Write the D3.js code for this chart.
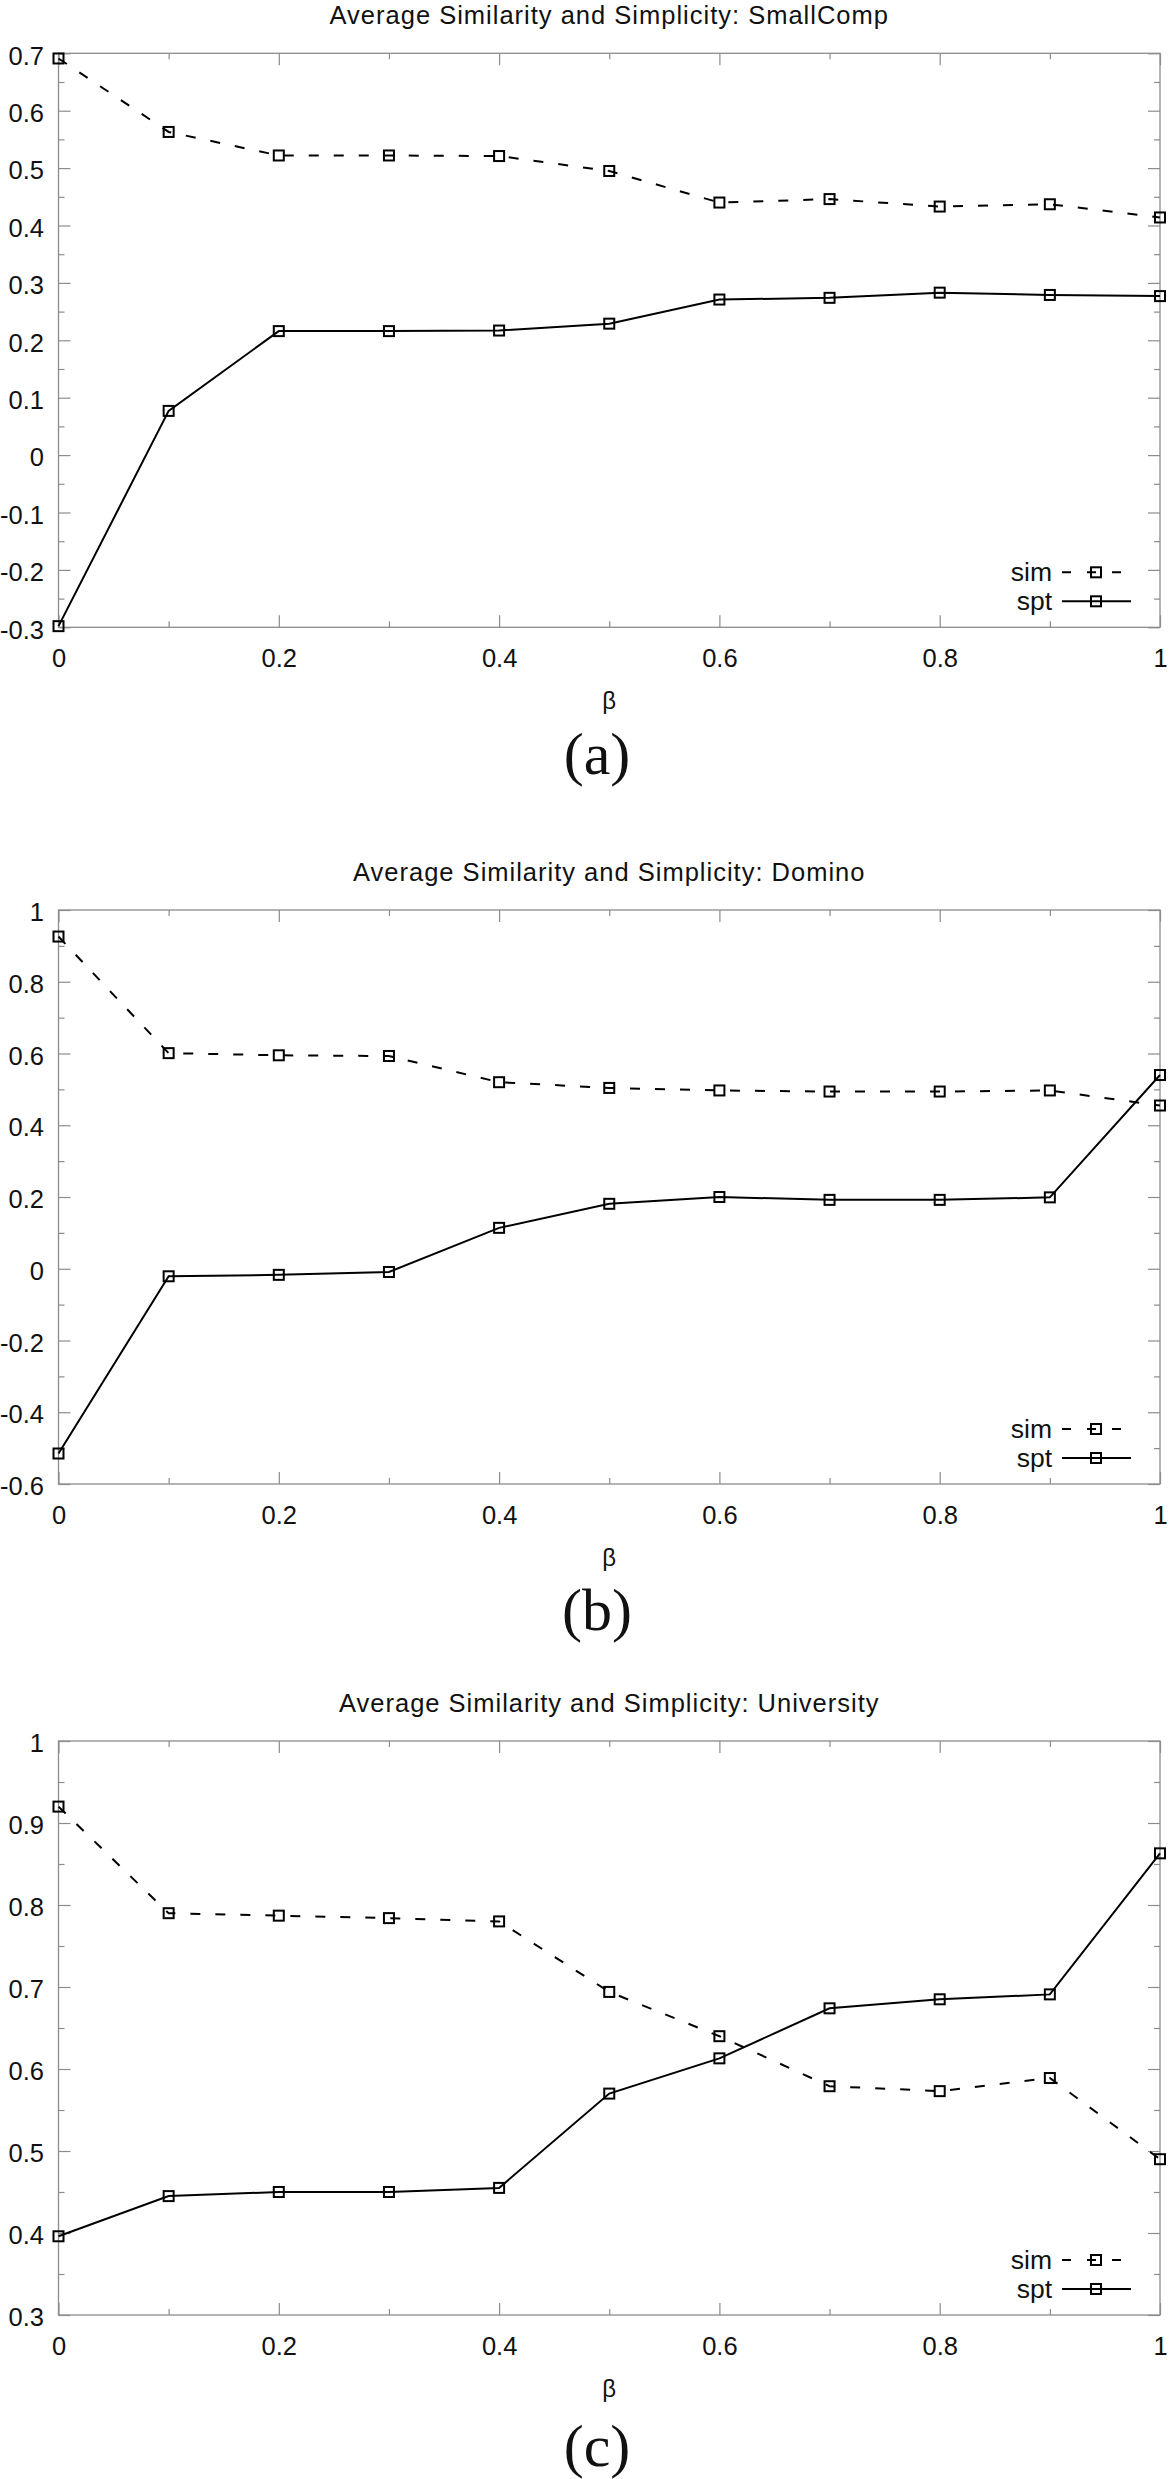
<!DOCTYPE html>
<html>
<head>
<meta charset="utf-8">
<script src="https://cdn.jsdelivr.net/npm/d3@7"></script>
<style>
  html, body { margin: 0; padding: 0; background: #fff; }
  svg { display: block; }
</style>
</head>
<body>
<svg id="chart" width="1170" height="2479"></svg>
<script>
// ---------------- data ----------------
const beta = [0, 0.1, 0.2, 0.3, 0.4, 0.5, 0.6, 0.7, 0.8, 0.9, 1.0];
const xMajorTicks = [0, 0.2, 0.4, 0.6, 0.8, 1];
const xMinorTicks = [0.1, 0.3, 0.5, 0.7, 0.9];
const seriesNames = ["sim", "spt"];
const panelTitles = [
  "Average Similarity and Simplicity: SmallComp",
  "Average Similarity and Simplicity: Domino",
  "Average Similarity and Simplicity: University"
];
const panelTags = ["(a)", "(b)", "(c)"];
const xAxisLabel = "β";

const simSmallComp = [0.691, 0.563, 0.522, 0.522, 0.521, 0.495, 0.440, 0.446, 0.433, 0.437, 0.414];
const sptSmallComp = [-0.298, 0.077, 0.216, 0.216, 0.217, 0.229, 0.271, 0.274, 0.283, 0.279, 0.277];
const ySmallCompDomain = [-0.3, 0.7];
const ySmallCompMajor = [-0.3, -0.2, -0.1, 0, 0.1, 0.2, 0.3, 0.4, 0.5, 0.6, 0.7];
const ySmallCompMinor = [-0.25, -0.15, -0.05, 0.05, 0.15, 0.25, 0.35, 0.45, 0.55, 0.65];

const simDomino = [0.926, 0.601, 0.595, 0.593, 0.520, 0.504, 0.497, 0.494, 0.494, 0.497, 0.455];
const sptDomino = [-0.515, -0.021, -0.017, -0.009, 0.114, 0.181, 0.200, 0.192, 0.192, 0.199, 0.540];
const yDominoDomain = [-0.6, 1];
const yDominoMajor = [-0.6, -0.4, -0.2, 0, 0.2, 0.4, 0.6, 0.8, 1];
const yDominoMinor = [-0.5, -0.3, -0.1, 0.1, 0.3, 0.5, 0.7, 0.9];

const simUniversity = [0.920, 0.790, 0.787, 0.784, 0.780, 0.694, 0.640, 0.579, 0.573, 0.589, 0.490];
const sptUniversity = [0.396, 0.445, 0.450, 0.450, 0.455, 0.570, 0.613, 0.674, 0.685, 0.691, 0.863];
const yUniversityDomain = [0.3, 1];
const yUniversityMajor = [0.3, 0.4, 0.5, 0.6, 0.7, 0.8, 0.9, 1];
const yUniversityMinor = [0.35, 0.45, 0.55, 0.65, 0.75, 0.85, 0.95];

// ---------------- layout ----------------
const panels = [
  { title: panelTitles[0], tag: panelTags[0], sim: simSmallComp, spt: sptSmallComp,
    domain: ySmallCompDomain, major: ySmallCompMajor, minor: ySmallCompMinor, top: 53.3, tagOff: 147 },
  { title: panelTitles[1], tag: panelTags[1], sim: simDomino, spt: sptDomino,
    domain: yDominoDomain, major: yDominoMajor, minor: yDominoMinor, top: 910, tagOff: 146 },
  { title: panelTitles[2], tag: panelTags[2], sim: simUniversity, spt: sptUniversity,
    domain: yUniversityDomain, major: yUniversityMajor, minor: yUniversityMinor, top: 1741, tagOff: 151 }
];

const L = 58.5, R = 1160, H = 574;
const sansFont = "'Liberation Sans', Arial, sans-serif";
const serifFont = "'Liberation Serif', 'Times New Roman', serif";
const gridGray = "#8c8c8c";
const fmt = v => String(+v.toFixed(2));

const svg = d3.select("#chart");
const x = d3.scaleLinear().domain([0, 1]).range([L, R]);

panels.forEach(p => {
  const top = p.top, bottom = top + H;
  const y = d3.scaleLinear().domain(p.domain).range([bottom, top]);
  const g = svg.append("g");

  // title
  g.append("text")
    .attr("x", (L + R) / 2).attr("y", top - 29.5)
    .attr("text-anchor", "middle")
    .attr("font-family", sansFont).attr("font-size", 25.5)
    .attr("letter-spacing", "1px")
    .attr("fill", "#111")
    .text(p.title);

  const styleAxis = sel => {
    sel.select(".domain").remove();
    sel.selectAll(".tick line").attr("stroke", gridGray).attr("stroke-width", 1.2);
    sel.selectAll(".tick text").attr("font-family", sansFont).attr("font-size", 25.5).attr("fill", "#111");
  };

  // left axis major (labels)
  g.append("g").attr("transform", `translate(${L},0)`)
    .call(d3.axisLeft(y).tickValues(p.major).tickSize(-12).tickPadding(14.5).tickFormat(fmt))
    .call(styleAxis)
    .call(s => s.selectAll(".tick text").attr("dy", "0.42em"));
  // left minor
  g.append("g").attr("transform", `translate(${L},0)`)
    .call(d3.axisLeft(y).tickValues(p.minor).tickSize(-6).tickFormat(""))
    .call(styleAxis);
  // right axis mirror
  g.append("g").attr("transform", `translate(${R},0)`)
    .call(d3.axisRight(y).tickValues(p.major).tickSize(-12).tickFormat(""))
    .call(styleAxis);
  g.append("g").attr("transform", `translate(${R},0)`)
    .call(d3.axisRight(y).tickValues(p.minor).tickSize(-6).tickFormat(""))
    .call(styleAxis);
  // bottom axis
  g.append("g").attr("transform", `translate(0,${bottom})`)
    .call(d3.axisBottom(x).tickValues(xMajorTicks).tickSize(-12).tickPadding(22).tickFormat(fmt))
    .call(styleAxis);
  g.append("g").attr("transform", `translate(0,${bottom})`)
    .call(d3.axisBottom(x).tickValues(xMinorTicks).tickSize(-6).tickFormat(""))
    .call(styleAxis);
  // top axis mirror
  g.append("g").attr("transform", `translate(0,${top})`)
    .call(d3.axisTop(x).tickValues(xMajorTicks).tickSize(-12).tickFormat(""))
    .call(styleAxis);
  g.append("g").attr("transform", `translate(0,${top})`)
    .call(d3.axisTop(x).tickValues(xMinorTicks).tickSize(-6).tickFormat(""))
    .call(styleAxis);

  // frame
  g.append("rect")
    .attr("x", L).attr("y", top).attr("width", R - L).attr("height", H)
    .attr("fill", "none").attr("stroke", gridGray).attr("stroke-width", 1.3);

  // x label and tag
  g.append("text")
    .attr("x", (L + R) / 2).attr("y", bottom + 82)
    .attr("text-anchor", "middle")
    .attr("font-family", sansFont).attr("font-size", 24).attr("fill", "#111")
    .text(xAxisLabel);
  g.append("text")
    .attr("x", 597).attr("y", bottom + p.tagOff)
    .attr("text-anchor", "middle")
    .attr("font-family", serifFont).attr("font-size", 60).attr("fill", "#111")
    .text(p.tag);

  // series
  const series = [
    { name: seriesNames[0], vals: p.sim, dash: "10,15" },
    { name: seriesNames[1], vals: p.spt, dash: null }
  ];
  const line = d3.line().x((d, i) => x(beta[i])).y(d => y(d));
  series.forEach(s => {
    g.append("path")
      .datum(s.vals)
      .attr("d", line)
      .attr("fill", "none").attr("stroke", "#000").attr("stroke-width", 2)
      .attr("stroke-dasharray", s.dash);
    g.selectAll(null).data(s.vals).enter().append("rect")
      .attr("x", (d, i) => x(beta[i]) - 5).attr("y", d => y(d) - 5)
      .attr("width", 10).attr("height", 10)
      .attr("fill", "none").attr("stroke", "#000").attr("stroke-width", 2);
  });

  // legend
  const legYs = [bottom - 55, bottom - 26];
  series.forEach((s, k) => {
    const ly = legYs[k];
    g.append("text")
      .attr("x", 1052).attr("y", ly + 9)
      .attr("text-anchor", "end")
      .attr("font-family", sansFont).attr("font-size", 26.5).attr("fill", "#111")
      .text(s.name);
    g.append("line")
      .attr("x1", 1062).attr("x2", 1131).attr("y1", ly).attr("y2", ly)
      .attr("stroke", "#000").attr("stroke-width", 2)
      .attr("stroke-dasharray", s.dash ? "9,16" : null);
    g.append("rect")
      .attr("x", 1096 - 5).attr("y", ly - 5).attr("width", 10).attr("height", 10)
      .attr("fill", "none").attr("stroke", "#000").attr("stroke-width", 2);
  });
});
</script>
</body>
</html>
